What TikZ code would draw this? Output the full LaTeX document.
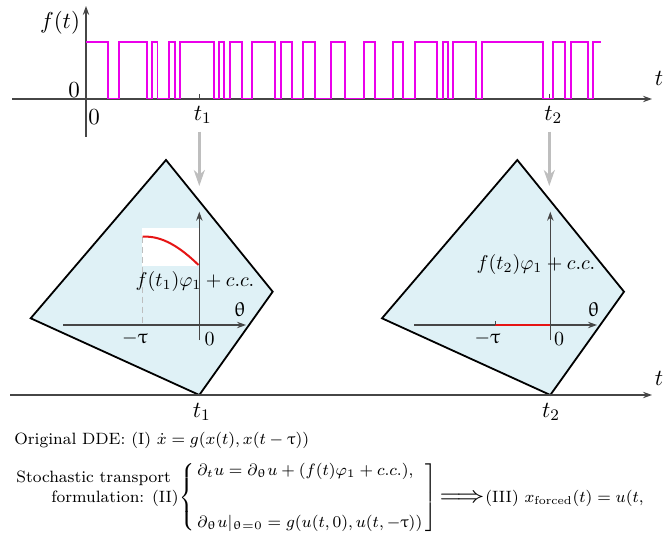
\RequirePackage{fix-cm}
\documentclass[tikz,border=0pt]{standalone}
\usepackage{amsmath}
\usepackage{graphicx}
\usepackage[Euler]{upgreek}
\usetikzlibrary{arrows.meta}
\definecolor{sigpink}{RGB}{235,0,235}
\definecolor{axgray}{RGB}{70,70,70}
\definecolor{arrgray}{RGB}{190,190,190}
\definecolor{diamfill}{RGB}{223,241,246}
\definecolor{curvered}{RGB}{230,20,20}
\begin{document}
\begin{tikzpicture}[x=0.5pt,y=-0.5pt,
  axis/.style={draw=axgray,line width=0.6pt},
  axarrow/.style={axis,-{Stealth[length=4.5pt,width=3.2pt]}},
  sig/.style={draw=sigpink,line width=0.9pt},
  bigarrow/.style={draw=arrgray,line width=1.2pt,-{Stealth[length=8pt,width=5.5pt,inset=2.5pt]}},
  diam/.style={draw=black,line width=0.9pt,fill=diamfill,line join=miter},
  toplab/.style={inner sep=0pt,font=\fontsize{11.5}{13}\selectfont},
  dlab/.style={inner sep=0pt,font=\fontsize{10}{12}\selectfont},
  btext/.style={inner sep=0pt,font=\fontsize{8.2}{9.8}\selectfont},
  redc/.style={draw=curvered,line width=1pt}]
\useasboundingbox (0,0) rectangle (664,534);

% ---------- top: f(t) signal ----------
\coordinate (hax0) at (12,99);
\coordinate (hax1) at (652,99);
\coordinate (vax0) at (86,137);
\coordinate (vax1) at (86,6);
\draw[axarrow] (hax0) -- (hax1);
\draw[axarrow] (vax0) -- (vax1);
\node[toplab] (ft) at (60,23) {$f(t)$};
\node[toplab] (zeroA) at (74,90) {$0$};
\node[toplab] (zeroB) at (94,117) {$0$};
\node[toplab] (ttop) at (659,78) {$t$};
\node[toplab] (t1top) at (202.7,115) {$t_1$};
\node[toplab] (t2top) at (553.3,115) {$t_2$};
\coordinate (tk1a) at (199.3,94);
\coordinate (tk1b) at (199.3,99);
\coordinate (tk2a) at (549.3,94);
\coordinate (tk2b) at (549.3,99);
\draw[axis] (tk1a) -- (tk1b);
\draw[axis] (tk2a) -- (tk2b);

\def\H{41.7}\def\L{98.6}
\draw[sig,line join=miter] (86,\H) -| (108,\L) -| (119,\H) -| (147,\L) -| (152,\H) -| (157.5,\L)
  -| (169,\H) -| (175,\L) -| (180,\H) -| (214,\L) -| (219,\H) -| (224,\L) -| (230,\H)
  -| (242,\L) -| (252,\H) -| (275,\L) -| (281,\H) -| (292,\L) -| (303,\H) -| (315,\L)
  -| (331,\H) -| (345,\L) -| (364,\H) -| (375,\L) -| (393,\H) -| (403,\L) -| (415,\H)
  -| (437,\L) -| (443,\H) -| (448,\L) -| (453,\H) -| (476,\L) -| (482,\H) -| (543,\L)
  -| (553,\H) -| (565,\L) -| (571,\H) -| (588,\L) -| (593,\H) -- (601,\H);

% ---------- gray arrows ----------
\coordinate (g1s) at (199.3,131.7);
\coordinate (g1e) at (199.3,186);
\coordinate (g2s) at (549.3,131.7);
\coordinate (g2e) at (549.3,186);
\draw[bigarrow] (g1s) -- (g1e);
\draw[bigarrow] (g2s) -- (g2e);

% ---------- diamond 1 ----------
\coordinate (d1t) at (166,160);
\coordinate (d1r) at (272.7,291.7);
\coordinate (d1b) at (199.3,395);
\coordinate (d1l) at (30.7,318.3);
\draw[diam] (d1t) -- (d1r) -- (d1b) -- (d1l) -- cycle;
\fill[white] (141.7,228.3) rectangle (199.3,266);
\coordinate (dd1a) at (142.7,236.7);
\coordinate (dd1b) at (142.7,325);
\draw[arrgray,dashed,line width=0.6pt,dash pattern=on 3pt off 2pt] (dd1a) -- (dd1b);
\coordinate (c1e) at (198.5,265);
\draw[redc] (dd1a) .. controls (162,235.5) and (180,247) .. (c1e);
\coordinate (v1a) at (199.3,340);
\coordinate (v1b) at (199.3,211.7);
\coordinate (h1a) at (63.3,325);
\coordinate (h1b) at (246,325);
\draw[axarrow] (v1a) -- (v1b);
\draw[axarrow] (h1a) -- (h1b);
\node[dlab] (lab1) at (195,281.7) {$f(t_1)\varphi_1+c.c.$};
\node[dlab] (mtau1) at (135,338.5) {$-\uptau$};
\node[dlab] (zero1) at (209.5,339) {$0$};
\node[dlab] (th1) at (240,310) {$\uptheta$};

% ---------- diamond 2 ----------
\coordinate (d2t) at (517.3,160);
\coordinate (d2r) at (624,291.7);
\coordinate (d2b) at (550.3,395);
\coordinate (d2l) at (382,318.3);
\draw[diam] (d2t) -- (d2r) -- (d2b) -- (d2l) -- cycle;
\coordinate (v2a) at (550.3,340);
\coordinate (v2b) at (550.3,211.7);
\coordinate (h2a) at (414,325);
\coordinate (h2b) at (597,325);
\draw[axarrow] (v2a) -- (v2b);
\draw[axarrow] (h2a) -- (h2b);
\coordinate (r2a) at (495.3,325);
\coordinate (r2b) at (550.3,325);
\coordinate (r2t) at (495.3,321.5);
\draw[redc] (r2a) -- (r2b);
\draw[axis] (r2t) -- (r2a);
\node[dlab] (lab2) at (536,265) {$f(t_2)\varphi_1+c.c.$};
\node[dlab] (mtau2) at (487.5,338.5) {$-\uptau$};
\node[dlab] (zero2) at (559,339) {$0$};
\node[dlab] (th2) at (593.7,310) {$\uptheta$};

% ---------- bottom time axis ----------
\coordinate (bax0) at (10,395);
\coordinate (bax1) at (652,395);
\draw[axarrow] (bax0) -- (bax1);
\node[toplab] (tbot) at (659,378) {$t$};
\node[toplab] (t1bot) at (201.7,412) {$t_1$};
\node[toplab] (t2bot) at (551,412) {$t_2$};

% ---------- text ----------
\node[btext,anchor=base west] (orig) at (14,444) {Original DDE: (I) $\dot{x}=g(x(t),x(t-\uptau))$};
\node[btext,anchor=base west] (stoch) at (16,482) {Stochastic transport};
\node[btext,anchor=base east] (form) at (179,502) {formulation: (II)};
\node[btext,anchor=west] (sys) at (179,497.5) {$\left\{\begin{array}{@{\,}l@{}}
  \partial_t u=\partial_\uptheta u+(f(t)\varphi_1+c.c.),\\[16pt]
  \partial_\uptheta u|_{\uptheta=0}=g(u(t,0),u(t,-\uptau))
  \end{array}\,\right]$};
\node[btext] (impl) at (462,498) {\scalebox{1.6}[1.35]{$\Longrightarrow$}};
\node[btext,anchor=base west] (res) at (485,502) {(III) $x_{\text{forced}}(t)=u(t,$};
\end{tikzpicture}
\end{document}
